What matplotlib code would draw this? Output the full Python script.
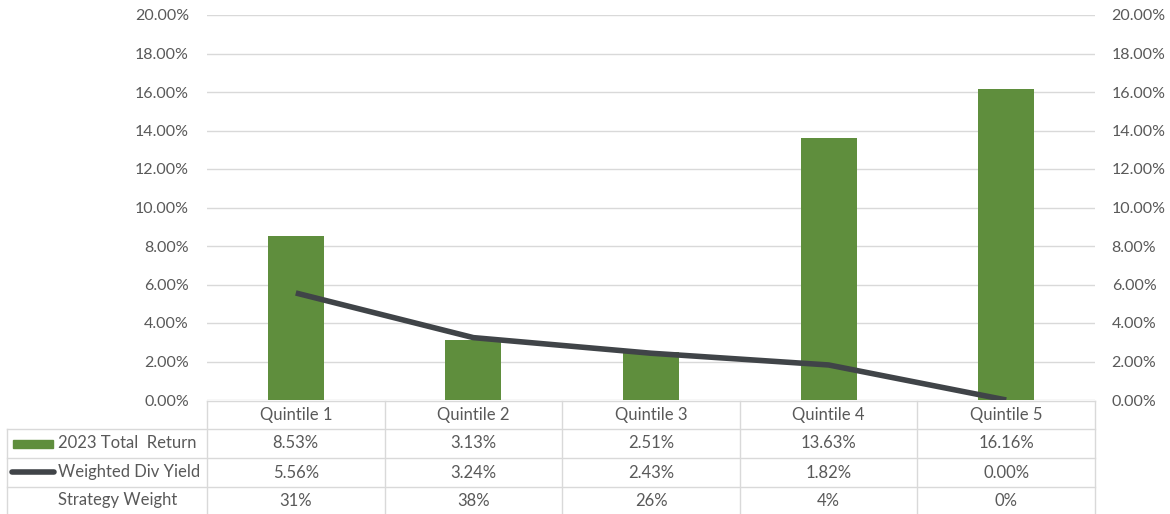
import matplotlib

matplotlib.use("Agg")
import matplotlib.pyplot as plt
from matplotlib.patches import Rectangle
from matplotlib.lines import Line2D
from matplotlib.ticker import FuncFormatter, MultipleLocator

categories = ["Quintile 1", "Quintile 2", "Quintile 3", "Quintile 4", "Quintile 5"]
total_return = [8.53, 3.13, 2.51, 13.63, 16.16]
div_yield = [5.56, 3.24, 2.43, 1.82, 0.00]
strategy_weight = [31, 38, 26, 4, 0]

bar_color = "#5f8e3d"
line_color = "#404448"
grid_color = "#d9d9d9"
text_color = "#595959"
fs = 12
tick_fs = 11.5

plt.rcParams["font.family"] = ["Lato", "DejaVu Sans"]

W, H = 1170, 514
fig = plt.figure(figsize=(W / 100, H / 100), dpi=100)
x0, x1, ytop, ybot = 207, 1095, 15, 400
ax = fig.add_axes([x0 / W, 1 - ybot / H, (x1 - x0) / W, (ybot - ytop) / H])

xs = list(range(len(categories)))
ax.bar(xs, total_return, width=0.315, color=bar_color, zorder=3)
ax.plot(xs, div_yield, color=line_color, linewidth=4, solid_capstyle="butt", zorder=4)

ax.set_xlim(-0.5, len(categories) - 0.5)
ax.set_ylim(0, 20)
ax.yaxis.set_major_locator(MultipleLocator(2))
fmt = FuncFormatter(lambda v, _: f"{v:.2f}%")
ax.yaxis.set_major_formatter(fmt)
ax.grid(axis="y", color=grid_color, linewidth=1, zorder=0)
for s in ax.spines.values():
    s.set_visible(False)
ax.set_xticks([])
ax.tick_params(axis="y", length=0, pad=13, labelsize=tick_fs, labelcolor=text_color)

ax2 = ax.twinx()
ax2.set_ylim(0, 20)
ax2.yaxis.set_major_locator(MultipleLocator(2))
ax2.yaxis.set_major_formatter(fmt)
for s in ax2.spines.values():
    s.set_visible(False)
ax2.tick_params(axis="y", length=0, pad=12, labelsize=tick_fs, labelcolor=text_color)

# data table below the plot, drawn in figure pixels
def fy(py):
    return 1 - py / H

def fx(px):
    return px / W

row_lines = [401, 429, 458, 487, 514]
cw = (x1 - x0) / len(categories)
for i, py in enumerate(row_lines[:-1]):
    left = x0 if i == 0 else 7
    fig.add_artist(Line2D([fx(left), fx(x1)], [fy(py), fy(py)], color=grid_color, lw=1))
for k in range(len(categories) + 1):
    px = x0 + k * cw
    fig.add_artist(Line2D([fx(px), fx(px)], [fy(401), fy(514)], color=grid_color, lw=1))
fig.add_artist(Line2D([fx(7), fx(7)], [fy(429), fy(514)], color=grid_color, lw=1))

rows = [
    categories,
    [f"{v:.2f}%" for v in total_return],
    [f"{v:.2f}%" for v in div_yield],
    [f"{v}%" for v in strategy_weight],
]
for r, vals in enumerate(rows):
    cy = (row_lines[r] + row_lines[r + 1]) / 2
    for k, v in enumerate(vals):
        fig.text(fx(x0 + (k + 0.5) * cw), fy(cy), v, ha="center", va="center",
                 fontsize=fs, color=text_color)

labels = ["2023 Total  Return", "Weighted Div Yield", "Strategy Weight"]
for r, lab in enumerate(labels):
    cy = (row_lines[r + 1] + row_lines[r + 2]) / 2
    fig.text(fx(58), fy(cy), lab, ha="left", va="center", fontsize=fs, color=text_color)

fig.add_artist(Rectangle((fx(13), fy(448)), fx(53) - fx(13), fy(440) - fy(448),
                         color=bar_color, transform=fig.transFigure))
fig.add_artist(Line2D([fx(12), fx(54)], [fy(472), fy(472)], color=line_color, lw=4,
                      solid_capstyle="round"))

fig.savefig("out.png", dpi=100)
